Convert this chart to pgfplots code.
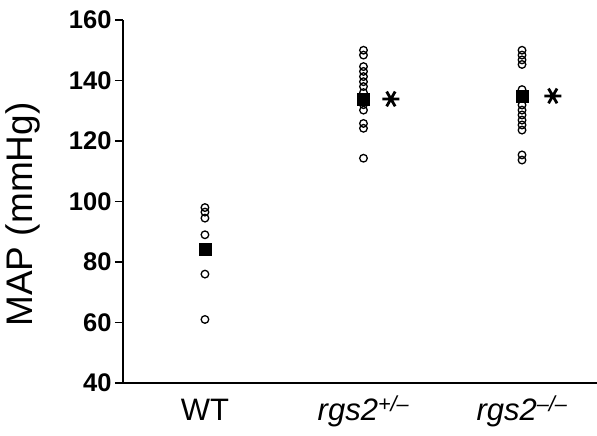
\documentclass[border=0pt]{standalone}
\usepackage{pgfplots}
\pgfplotsset{compat=1.18}
\usepackage{fontspec}
\setmainfont{Liberation Sans}
\begin{document}
\begin{tikzpicture}
\begin{axis}[
 name=ax,
 scale only axis,
 width=474pt, height=363pt,
 xmin=-0.517, xmax=2.473,
 ymin=40, ymax=160,
 ytick={40,60,...,160},
 xtick={0,1,2},
 xticklabels={WT, {\itshape rgs2\textsuperscript{+/–}}, {\itshape rgs2\textsuperscript{–/–}}},
 axis x line*=bottom, axis y line*=left,
 axis line style={line width=1.8pt, -},
 ytick style={line width=1.8pt, black},
 xtick style={draw=none},
 tick align=outside,
 major tick length=8pt,
 /pgf/number format/assume math mode=true,
 yticklabel style={font=\fontsize{25.5}{30}\selectfont\bfseries},
 xticklabel style={font=\fontsize{31}{37}\selectfont, anchor=base, yshift=-30pt},
 ylabel={MAP (mmHg)},
 every axis y label/.style={at={(axis description cs:0,0.5)}, xshift=-100pt, yshift=-13pt, rotate=90, anchor=center, font=\fontsize{37}{44}\selectfont},
 clip=false,
]
% individual animals
\addplot[only marks, mark=o, mark size=3.8pt, mark options={line width=1.3pt, black}] coordinates {
 (0,98) (0,96.5) (0,94.5) (0,89) (0,76) (0,61)
 (1,150) (1,148.4) (1,144.6) (1,143) (1,141.3) (1,139.6) (1,138) (1,136) (1,132) (1,130.2) (1,125.8) (1,124.2) (1,114.3)
 (2,150) (2,148.4) (2,146.8) (2,145.3) (2,137) (2,131.9) (2,130.2) (2,128.6) (2,126.9) (2,125.3) (2,123.6) (2,115.4) (2,113.7)
};
% means
\addplot[only marks, mark=square*, mark size=6.2pt, mark options={black, fill=black}] coordinates {
 (0,84.2) (1,133.9) (2,134.8)
};
% significance
\addplot[only marks, mark=asterisk, mark size=8.5pt, mark options={line width=2.8pt, black, rotate=90}] coordinates {
 (1.173,133.9) (2.194,134.9)
};
\end{axis}
\pgfresetboundingbox
\path[use as bounding box] ([xshift=-123pt,yshift=-53pt]ax.south west) rectangle ([yshift=20pt]ax.north east);
\end{tikzpicture}
\end{document}
